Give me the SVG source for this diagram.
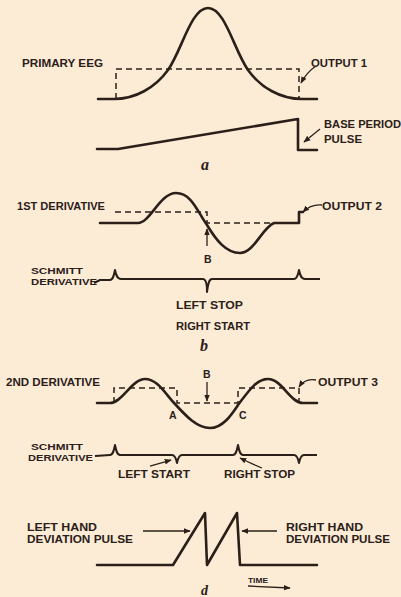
<svg xmlns="http://www.w3.org/2000/svg" width="401" height="597" viewBox="0 0 401 597">
<defs>
<style>
.bg{fill:#fcecd6}
.w{fill:none;stroke:#2b2019;stroke-width:2.6;stroke-linejoin:round;stroke-linecap:round}
.s{fill:none;stroke:#2b2019;stroke-width:2;stroke-linejoin:round}
.d{fill:none;stroke:#2b2019;stroke-width:1.5;stroke-dasharray:6 4}
.a{fill:none;stroke:#2b2019;stroke-width:1.3;marker-end:url(#ah)}
text{font-family:"Liberation Sans","DejaVu Sans",sans-serif;font-weight:bold;font-size:10.5px;fill:#2b2019}
.sm{font-size:9px}
.sc{font-family:"Liberation Serif",serif;font-style:italic;font-size:16px}
</style>
<marker id="ah" viewBox="0 0 10 10" refX="9" refY="5" markerWidth="7" markerHeight="7" markerUnits="userSpaceOnUse" orient="auto">
<path d="M0,1 L10,5 L0,9 z" fill="#2b2019"/>
</marker>
</defs>
<rect class="bg" width="401" height="597"/>

<g id="panel-a">
<path class="w" d="M98,99 L114,99 C135,99 155,88 168,70 C182,50 191,8 208,8 C225,8 234,50 248,70 C261,88 281,99 302,99 L317,99"/>
<path class="d" d="M116,99 L116,69 L299,69 L299,99"/>
<path class="w" d="M97,149 L118,149 L298,119 L298,150 L317,150"/>
<text x="22" y="67" textLength="81" lengthAdjust="spacingAndGlyphs">PRIMARY EEG</text>
<text x="311" y="67" textLength="56" lengthAdjust="spacingAndGlyphs">OUTPUT 1</text>
<text x="324" y="128" textLength="77" lengthAdjust="spacingAndGlyphs">BASE PERIOD</text>
<text x="324" y="143" textLength="38" lengthAdjust="spacingAndGlyphs">PULSE</text>
<text class="sc" x="201" y="170">a</text>
</g>

<g id="panel-b">
<path class="w" d="M100,223 L138,223 C150,223 160,193 176,193 C192,193 198,213 207,225 C216,240 226,253 240,253 C254,253 262,228 274,223 L299,223 L299,212 L303,212"/>
<path class="d" d="M115,212 L207,212 L207,223 L299,223"/>
<path class="s" d="M94,283 L100,280 L110,280 C113,280 114,275 115,270 C116,275 117,279 121,279 L203,279 C206,279 207,284 207,292 C208,284 209,279 212,279 L294,279 C297,279 298,275 299,270 C300,275 301,279 305,279 L320,279"/>
<text x="17" y="210" textLength="88" lengthAdjust="spacingAndGlyphs">1ST DERIVATIVE</text>
<text x="322" y="210" textLength="60" lengthAdjust="spacingAndGlyphs">OUTPUT 2</text>
<text x="204" y="263">B</text>
<text class="sm" x="31" y="274" textLength="52" lengthAdjust="spacingAndGlyphs">SCHMITT</text>
<text class="sm" x="31" y="285" textLength="66" lengthAdjust="spacingAndGlyphs">DERIVATIVE</text>
<text x="176" y="309" textLength="67" lengthAdjust="spacingAndGlyphs">LEFT STOP</text>
<text x="176" y="330" textLength="74" lengthAdjust="spacingAndGlyphs">RIGHT START</text>
<text class="sc" x="200" y="351">b</text>
</g>

<g id="panel-c">
<path class="w" d="M97,403 L110,403 C122,403 132,379 145,379 C158,379 166,395 175,404 C186,416 197,428 210,428 C223,428 232,414 238,405 C248,392 256,379 268,379 C282,379 290,403 303,403 L317,403"/>
<path class="d" d="M114,403 L114,388 L177,388 L177,403 L238,403 L238,388 L299,388 L299,403"/>
<path class="s" d="M95,456 L110,455 C113,455 114,450 115,445 C116,450 117,455 120,455 L172,455 C175,455 176,458 177,463 C178,458 179,455 182,455 L233,455 C236,455 237,450 238,445 C239,450 240,455 243,455 L294,455 C297,455 298,458 299,463 C300,458 301,455 304,455 L317,455"/>
<text x="6" y="386" textLength="94" lengthAdjust="spacingAndGlyphs">2ND DERIVATIVE</text>
<text x="203" y="378">B</text>
<text x="169" y="419">A</text>
<text x="239" y="419">C</text>
<text x="318" y="386" textLength="60" lengthAdjust="spacingAndGlyphs">OUTPUT 3</text>
<text class="sm" x="31" y="450" textLength="52" lengthAdjust="spacingAndGlyphs">SCHMITT</text>
<text class="sm" x="28" y="461" textLength="65" lengthAdjust="spacingAndGlyphs">DERIVATIVE</text>
<text x="118" y="478" textLength="72" lengthAdjust="spacingAndGlyphs">LEFT START</text>
<text x="224" y="478" textLength="71" lengthAdjust="spacingAndGlyphs">RIGHT STOP</text>
</g>

<g id="panel-d">
<path class="w" d="M97,565 L173,565 L205,513 L207,565 L237,513 L240,565 L317,565"/>
<text x="27" y="531" textLength="70" lengthAdjust="spacingAndGlyphs">LEFT HAND</text>
<text x="27" y="543" textLength="106" lengthAdjust="spacingAndGlyphs">DEVIATION PULSE</text>
<text x="286" y="531" textLength="77" lengthAdjust="spacingAndGlyphs">RIGHT HAND</text>
<text x="286" y="543" textLength="104" lengthAdjust="spacingAndGlyphs">DEVIATION PULSE</text>
<text x="248" y="583" style="font-size:8px" textLength="20" lengthAdjust="spacingAndGlyphs">TIME</text>
<text class="sc" x="201" y="595" style="font-size:14px">d</text>
</g>

<g id="connectors">
<path class="a" d="M316,66 Q307,72 301,83"/>
<path class="a" d="M320,129 L304,142"/>
<path class="a" d="M322,205 Q311,204 303,212"/>
<path class="a" d="M207,246 L207,229"/>
<path class="a" d="M207,382 L207,401"/>
<path class="a" d="M316,380 Q305,378 299,387"/>
<path class="a" d="M150,466 L171,460"/>
<path class="a" d="M262,468 Q252,464 240,458"/>
<path class="a" d="M143,531 L190,531"/>
<path class="a" d="M277,531 L242,531"/>
<path class="a" d="M248,586 L290,588"/>
</g>
</svg>
